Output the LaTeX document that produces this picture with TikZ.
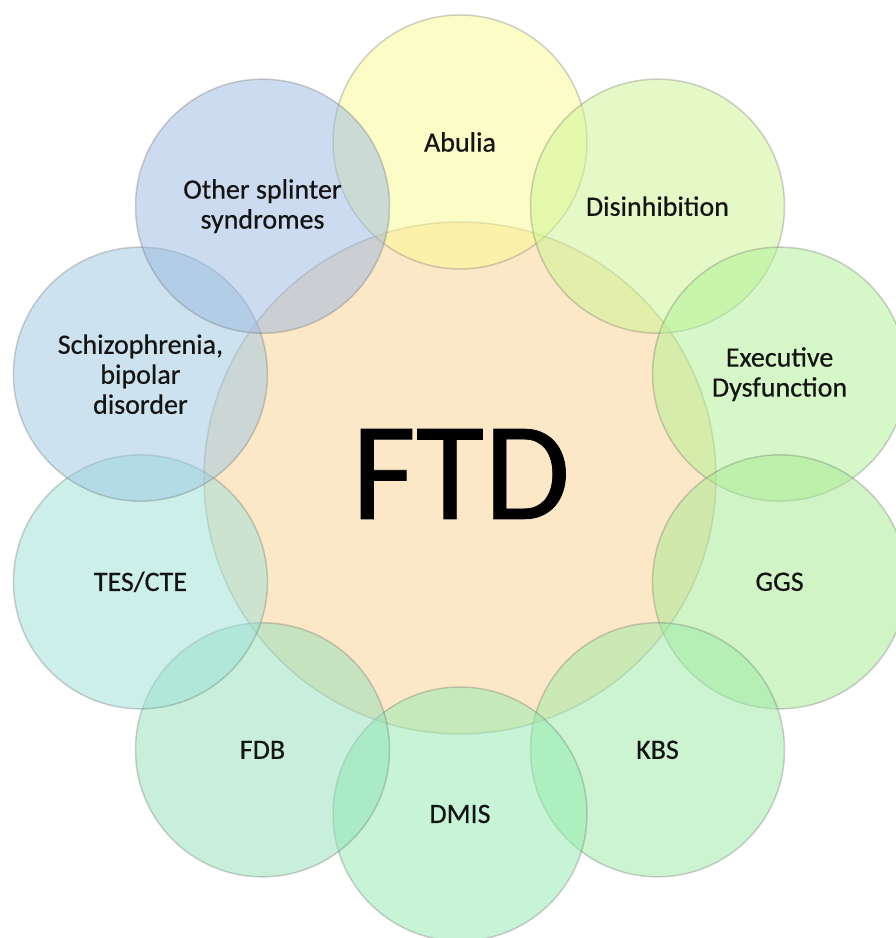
\documentclass[tikz,border=0pt]{standalone}
\usepackage{fontspec}
\setmainfont{Carlito}
\newfontfamily\ftdfont[FakeBold=0.5]{Carlito}
\usetikzlibrary{calc}

\definecolor{ftdcol}{RGB}{251,209,145}
\definecolor{abucol}{RGB}{251,251,145}
\definecolor{discol}{RGB}{205,245,145}
\definecolor{execol}{RGB}{175,241,145}
\definecolor{ggscol}{RGB}{165,235,145}
\definecolor{kbscol}{RGB}{155,235,165}
\definecolor{dmicol}{RGB}{145,235,175}
\definecolor{fdbcol}{RGB}{145,225,185}
\definecolor{tescol}{RGB}{155,225,215}
\definecolor{schcol}{RGB}{155,201,225}
\definecolor{othcol}{RGB}{155,185,225}

\tikzset{
  bubble/.style={fill opacity=0.5, draw=black!60, draw opacity=0.3, line width=1.5pt},
  lbl/.style={font=\ftdfont\fontsize{28}{30}\selectfont, text=black!92, align=center, inner sep=0pt}
}

\begin{document}
\begin{tikzpicture}[x=1pt,y=1pt]

	\useasboundingbox (0,0) rectangle (896,938);
	\fill[white] (0,0) rectangle (896,938);
	\coordinate (o) at (460,460);

	% central circle
	\draw[bubble, fill=ftdcol] (o) circle[radius=256];

	% ring of ten circles
	\foreach \ang/\name/\col/\txt in {
		90/abulia/abucol/{Abulia},
		54/disinh/discol/{Disinhibition},
		18/execdys/execol/{Executive\\Dysfunction},
		-18/ggs/ggscol/{GGS},
		-54/kbs/kbscol/{KBS},
		-90/dmis/dmicol/{DMIS},
		-126/fdb/fdbcol/{FDB},
		-162/tes/tescol/{TES/CTE},
		162/schizo/schcol/{Schizophrenia,\\bipolar\\disorder},
		126/other/othcol/{Other splinter\\syndromes}}{
		\coordinate (c-\name) at ($(o)+(\ang:336)$);
		\draw[bubble, fill=\col] (c-\name) circle[radius=127];
		\node[lbl] (\name) at (c-\name) {\txt};
	}

	\node[font=\ftdfont\fontsize{140}{140}\selectfont, text=black, inner sep=0pt] (ftd) at (461,464) {FTD};

\end{tikzpicture}
\end{document}
